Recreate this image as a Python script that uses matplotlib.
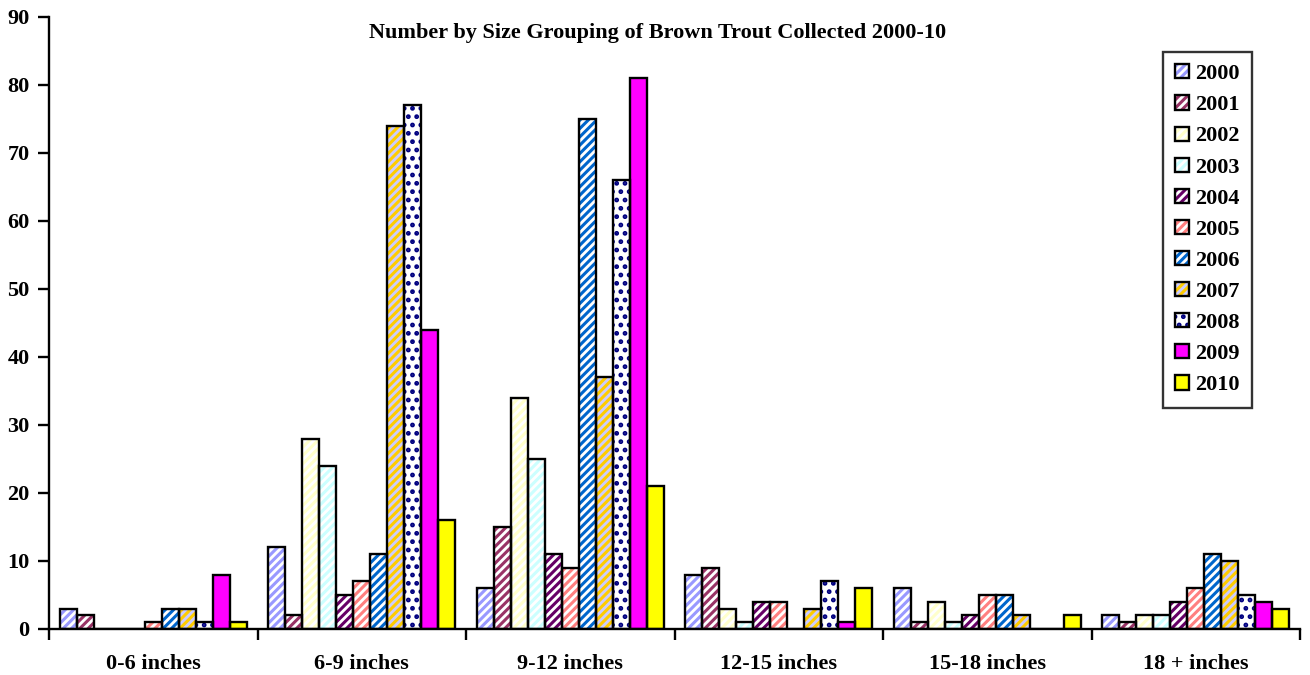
import matplotlib
matplotlib.use("Agg")
import matplotlib.pyplot as plt
from matplotlib.patches import Patch
import matplotlib.patches as mp
from matplotlib.legend_handler import HandlerPatch
import numpy as np

categories = ["0-6 inches", "6-9 inches", "9-12 inches", "12-15 inches", "15-18 inches", "18 + inches"]
years = ["2000", "2001", "2002", "2003", "2004", "2005", "2006", "2007", "2008", "2009", "2010"]
values = {
    "2000": [3, 12, 6, 8, 6, 2],
    "2001": [2, 2, 15, 9, 1, 1],
    "2002": [0, 28, 34, 3, 4, 2],
    "2003": [0, 24, 25, 1, 1, 2],
    "2004": [0, 5, 11, 4, 2, 4],
    "2005": [1, 7, 9, 4, 5, 6],
    "2006": [3, 11, 75, 0, 5, 11],
    "2007": [3, 74, 37, 3, 2, 10],
    "2008": [1, 77, 66, 7, 0, 5],
    "2009": [8, 44, 81, 1, 0, 4],
    "2010": [1, 16, 21, 6, 2, 3],
}
yticks = list(range(0, 100, 10))

# style: (facecolor, hatch, hatchcolor)
styles = {
    "2000": ("white", "////", "#9999FF"),
    "2001": ("white", "////", "#993366"),
    "2002": ("white", "////", "#FFFFCC"),
    "2003": ("white", "////", "#CCFFFF"),
    "2004": ("white", "////", "#660066"),
    "2005": ("white", "////", "#FF8080"),
    "2006": ("white", "////", "#0066CC"),
    "2007": ("#CCCCFF", "////", "#FFCC00"),
    "2008": ("white", "..", "#000080"),
    "2009": ("#FF00FF", None, None),
    "2010": ("#FFFF00", None, None),
}

plt.rcParams['font.family'] = ['Liberation Serif', 'DejaVu Serif']
plt.rcParams['font.weight'] = 'bold'
plt.rcParams['hatch.linewidth'] = 2.2

fig = plt.figure(figsize=(13.1, 6.75), dpi=100)
ax = fig.add_axes([49/1310, 46/675, 1251/1310, 612/675])

n = len(years)
bw = 0.0815
x = np.arange(len(categories))
handles = []
for i, yr in enumerate(years):
    fc, hatch, hc = styles[yr]
    pos = x - bw * n / 2 + bw * (i + 0.5)
    if hatch:
        ax.bar(pos, values[yr], width=bw, color=fc, hatch=hatch, edgecolor=hc, linewidth=0, zorder=2)
        handles.append(Patch(facecolor=fc, hatch=hatch, edgecolor=hc, linewidth=0))
    else:
        ax.bar(pos, values[yr], width=bw, color=fc, linewidth=0, zorder=2)
        handles.append(Patch(facecolor=fc, linewidth=0))
    ax.bar(pos, values[yr], width=bw, fill=False, edgecolor="black", linewidth=1.7, zorder=3)


class OutlinedHandler(HandlerPatch):
    def create_artists(self, legend, orig_handle, xdescent, ydescent, width, height, fontsize, trans):
        p = mp.Rectangle((-xdescent, -ydescent), width, height, facecolor=orig_handle.get_facecolor(),
                         hatch=orig_handle.get_hatch(), edgecolor=orig_handle.get_edgecolor(), linewidth=0,
                         transform=trans)
        o = mp.Rectangle((-xdescent, -ydescent), width, height, fill=False, edgecolor='black',
                         linewidth=1.7, transform=trans)
        return [p, o]


leg = ax.legend(handles, years, loc="upper right", bbox_to_anchor=(1252/1310, (675-52)/675),
                bbox_transform=fig.transFigure, borderaxespad=0, frameon=True, fancybox=False,
                edgecolor="black", fontsize=16, handlelength=0.6, handleheight=0.6,
                handletextpad=0.3, labelspacing=0.5, borderpad=0.55,
                handler_map={Patch: OutlinedHandler()})
leg.get_frame().set_linewidth(1.7)
leg.set_zorder(5)

ax.set_xlim(-0.5, len(categories) - 0.5)
ax.set_ylim(0, 90)
ax.set_yticks(yticks)
ax.set_xticks(x)
ax.set_xticklabels(categories)
ax.set_xticks(np.arange(len(categories) + 1) - 0.5, minor=True)
ax.tick_params(axis='x', which='major', length=0, pad=18, labelsize=16)
ax.tick_params(axis='x', which='minor', length=8, width=1.7, direction='out')
ax.tick_params(axis='y', length=8, width=1.7, direction='out', labelsize=16, pad=6)
for lbl in ax.get_xticklabels() + ax.get_yticklabels():
    lbl.set_fontweight('bold')
for s in ['top', 'right']:
    ax.spines[s].set_visible(False)
for s in ['left', 'bottom']:
    ax.spines[s].set_linewidth(1.7)

fig.text(658/1310, (675-38)/675, "Number by Size Grouping of Brown Trout Collected 2000-10",
         ha='center', va='baseline', fontsize=16, fontweight='bold')

fig.savefig("out.png", dpi=100)
